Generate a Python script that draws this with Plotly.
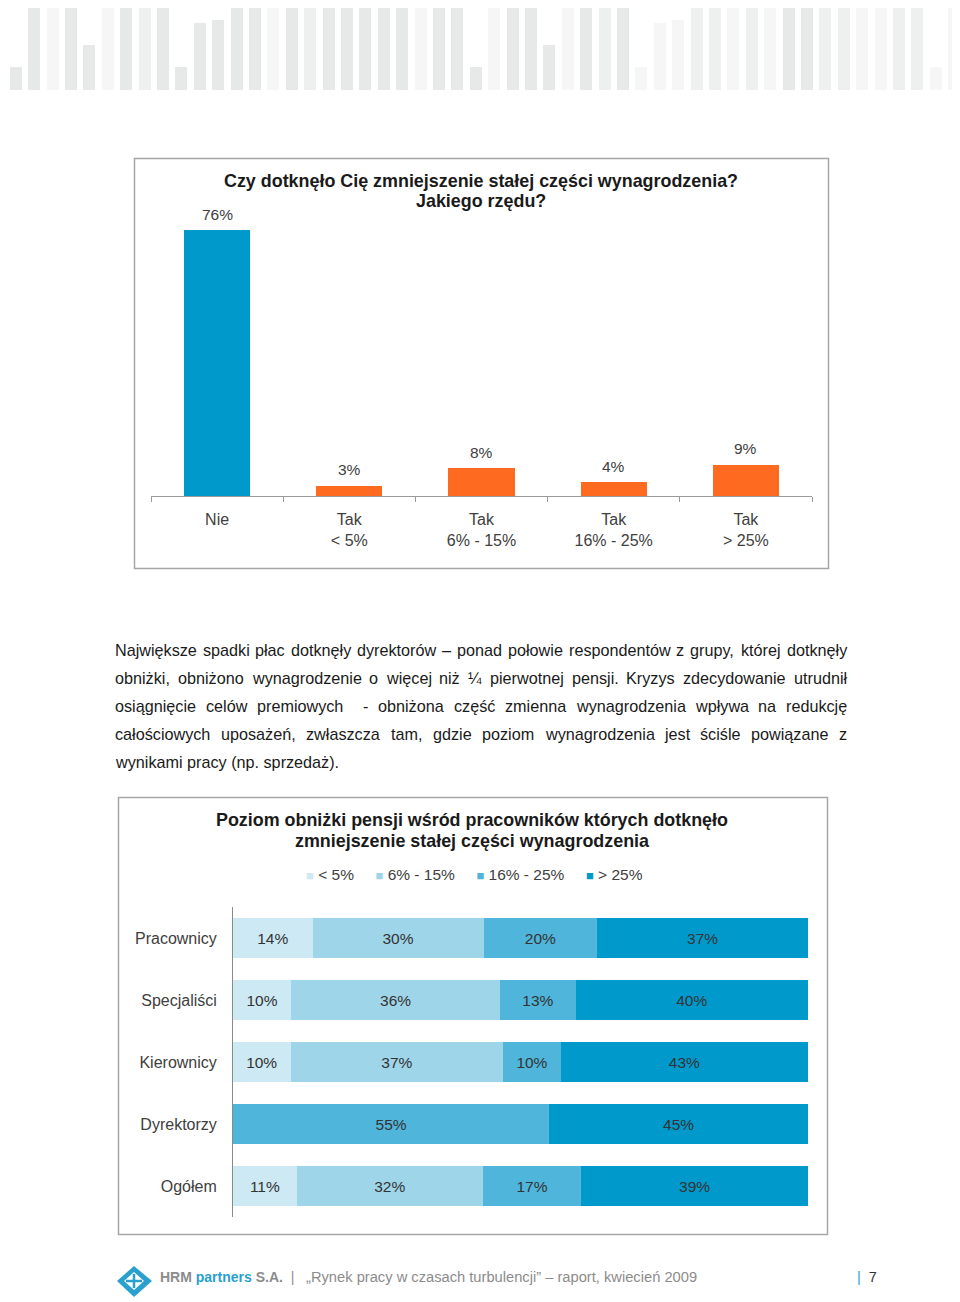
import unicodedata
import plotly.graph_objects as go

W, H = 960, 1302
OFF = 8  # page body margin of the browser
FONT = "Liberation Sans, Arial, sans-serif"


def X(px):
    return (px - OFF) / W


def Y(py):
    return 1 - (py - OFF) / H


# ---------------- header decoration (grey stripes) ----------------
header_heights = [90, 23, 90, 90, 90, 45, 90, 90, 90, 90, 23, 67, 70, 90, 90, 90, 90, 90,
                  90, 90, 90, 90, 90, 90, 90, 90, 23, 90, 90, 90, 45, 90, 90, 90, 90, 23,
                  67, 70, 90, 90, 90, 90, 90, 90, 90, 90, 90, 90, 90, 90, 90, 23, 90]
header_tones = ["l", "d", "d", "l", "d", "d", "l", "d", "m", "d", "d", "d", "d", "d", "d", "l", "d", "m",
                "d", "d", "d", "d", "d", "l", "d", "d", "d", "l", "d", "d", "d", "l", "d", "m", "d", "l",
                "l", "l", "m", "m", "l", "m", "l", "d", "d", "m", "m", "l", "l", "m", "m", "l", "l"]
tone_colors = {"d": "#e7e9e9", "m": "#eeefef", "l": "#f6f6f6"}

# ---------------- chart 1 ----------------
c1_title = ["Czy dotknęło Cię zmniejszenie stałej części wynagrodzenia?", "Jakiego rzędu?"]
c1_categories = ["Nie", "Tak<br>< 5%", "Tak<br>6% - 15%", "Tak<br>16% - 25%", "Tak<br>> 25%"]
c1_values = [76, 3, 8, 4, 9]
c1_colors = ["#0099cc", "#ff6a21", "#ff6a21", "#ff6a21", "#ff6a21"]

# ---------------- chart 2 ----------------
c2_title = ["Poziom obniżki pensji wśród pracowników których dotknęło",
            "zmniejszenie stałej części wynagrodzenia"]
c2_groups = ["Pracownicy", "Specjaliści", "Kierownicy", "Dyrektorzy", "Ogółem"]
c2_series = ["< 5%", "6% - 15%", "16% - 25%", "> 25%"]
c2_lt5 = [14, 10, 10, 0, 11]
c2_6_15 = [30, 36, 37, 0, 32]
c2_16_25 = [20, 13, 10, 55, 17]
c2_gt25 = [37, 40, 43, 45, 39]
c2_colors = ["#cde9f3", "#9fd5e9", "#4fb5da", "#0099cc"]

# ---------------- paragraph ----------------
para_lines = [
    "Największe spadki płac dotknęły dyrektorów – ponad połowie respondentów z grupy, której dotknęły",
    "obniżki, obniżono wynagrodzenie o więcej niż ¼ pierwotnej pensji. Kryzys zdecydowanie utrudnił",
    "osiągnięcie celów premiowych  - obniżona część zmienna wynagrodzenia wpływa na redukcję",
    "całościowych uposażeń, zwłaszcza tam, gdzie poziom wynagrodzenia jest ściśle powiązane z",
    "wynikami pracy (np. sprzedaż).",
]

footer_left = ("<b>HRM <span style='color:#2aa0d0'>partners</span> S.A.</b>&nbsp;&nbsp;|&nbsp;&nbsp;&nbsp;"
               "<span style='font-size:14.7px'>„Rynek pracy w czasach turbulencji” – raport, kwiecień 2009</span>")
footer_page = "7"

# ---------------- helpers ----------------
AW = {" ": 278, "a": 556, "b": 556, "c": 500, "d": 556, "e": 556, "f": 278, "g": 556, "h": 556,
      "i": 222, "j": 222, "k": 500, "l": 222, "m": 833, "n": 556, "o": 556, "p": 556, "q": 556,
      "r": 333, "s": 500, "t": 278, "u": 556, "v": 500, "w": 722, "x": 500, "y": 500, "z": 500,
      "A": 667, "B": 667, "C": 722, "D": 722, "E": 667, "F": 611, "G": 778, "H": 722, "I": 278,
      "J": 500, "K": 667, "L": 556, "M": 833, "N": 722, "O": 778, "P": 667, "Q": 778, "R": 722,
      "S": 667, "T": 611, "U": 722, "V": 667, "W": 944, "X": 667, "Y": 667, "Z": 611,
      "%": 889, "(": 333, ")": 333, ".": 278, ",": 278, "-": 333, "–": 556, "¼": 834, "ł": 222,
      "Ł": 556}


def text_width(s, size):
    tot = 0
    for ch in s:
        if ch in AW:
            tot += AW[ch]
        elif ch.isdigit():
            tot += 556
        else:
            base = unicodedata.normalize("NFD", ch)[0]
            tot += AW.get(base, 556)
    return tot * size / 1000


fig = go.Figure()

# header stripes
fig.add_trace(go.Bar(
    x=list(range(len(header_heights))), y=header_heights,
    marker=dict(color=[tone_colors[t] for t in header_tones], line=dict(width=0)),
    width=0.65, xaxis="x", yaxis="y", hoverinfo="skip", showlegend=False))

# chart 1
fig.add_trace(go.Bar(
    x=c1_categories, y=c1_values,
    marker=dict(color=c1_colors, line=dict(width=0)),
    width=0.5, xaxis="x2", yaxis="y2", showlegend=False))

# chart 2 (100% stacked)
series_vals = [c2_lt5, c2_6_15, c2_16_25, c2_gt25]
totals = [sum(col) for col in zip(*series_vals)]
for name, vals, col in zip(c2_series, series_vals, c2_colors):
    fig.add_trace(go.Bar(
        y=c2_groups, x=[v / t * 100 for v, t in zip(vals, totals)], orientation="h",
        name=name, marker=dict(color=col, line=dict(width=0)), width=0.66,
        text=[f"{v}%" if v else "" for v in vals], textposition="inside",
        insidetextanchor="middle", textangle=0, constraintext="none",
        textfont=dict(size=15.5, color="#333333", family=FONT),
        xaxis="x3", yaxis="y3", showlegend=False))

annotations = []
# value labels chart 1 (data coordinates)
for cat, v in zip(c1_categories, c1_values):
    annotations.append(dict(text=f"{v}%", x=cat, y=v, xref="x2", yref="y2", xanchor="center",
                            yanchor="middle", yshift=16, showarrow=False,
                            font=dict(size=15.5, color="#404040", family=FONT)))

# chart titles (line by line)
for line, ly in zip(c1_title, [181, 201]):
    annotations.append(dict(text=f"<b>{line}</b>", x=X(481), y=Y(ly), xref="paper", yref="paper",
                            xanchor="center", yanchor="middle", showarrow=False,
                            font=dict(size=17.9, color="#1a1a1a", family=FONT)))
for line, ly in zip(c2_title, [820, 841]):
    annotations.append(dict(text=f"<b>{line}</b>", x=X(472), y=Y(ly), xref="paper", yref="paper",
                            xanchor="center", yanchor="middle", showarrow=False,
                            font=dict(size=17.9, color="#1a1a1a", family=FONT)))
# legend for chart 2
legend_txt = "&nbsp;&nbsp;&nbsp;&nbsp;&nbsp;".join(
    f"<span style='font-size:13px;color:{c}'>■</span>&nbsp;{n}" for n, c in zip(c2_series, c2_colors))
annotations.append(dict(text=legend_txt, x=X(474.5), y=Y(875), xref="paper", yref="paper",
                        xanchor="center", yanchor="middle", showarrow=False,
                        font=dict(size=15.5, color="#404040", family=FONT)))

# paragraph (justified)
PX0, PX1, PSIZE = 113, 845, 16.2
para_y = [650, 678, 706, 734, 762]
for li, (line, ly) in enumerate(zip(para_lines, para_y)):
    if li == len(para_lines) - 1:
        annotations.append(dict(text=line, x=X(PX0), y=Y(ly), xref="paper", yref="paper",
                                xanchor="left", yanchor="middle", showarrow=False,
                                font=dict(size=PSIZE, color="#1a1a1a", family=FONT)))
        continue
    tokens = line.split(" ")
    words, gaps_before = [], []
    pending = 0
    for tok in tokens:
        if tok == "":
            pending += 1
            continue
        words.append(tok)
        gaps_before.append(pending + 1 if len(words) > 1 else 0)
        pending = 0
    units = sum(gaps_before)
    widths = [text_width(w, PSIZE) for w in words]
    gap = (PX1 - PX0 - sum(widths)) / units
    xpos = PX0
    for w, wd, g in zip(words, widths, gaps_before):
        xpos += g * gap
        annotations.append(dict(text=w, x=X(xpos), y=Y(ly), xref="paper", yref="paper",
                                xanchor="left", yanchor="middle", showarrow=False,
                                font=dict(size=PSIZE, color="#1a1a1a", family=FONT)))
        xpos += wd

# footer
annotations.append(dict(text=footer_left, x=X(158), y=Y(1277), xref="paper", yref="paper",
                        xanchor="left", yanchor="middle", showarrow=False,
                        font=dict(size=14, color="#8c8c8c", family=FONT)))
annotations.append(dict(text=f"<span style='color:#2aa0d0'>|</span>&nbsp;&nbsp;{footer_page}",
                        x=X(855), y=Y(1277), xref="paper", yref="paper",
                        xanchor="left", yanchor="middle", showarrow=False,
                        font=dict(size=14.5, color="#333333", family=FONT)))

shapes = [
    dict(type="rect", xref="paper", yref="paper", x0=X(134.5), x1=X(828.5), y0=Y(568.5), y1=Y(158.5),
         line=dict(color="#a6a6a6", width=1.5), fillcolor="rgba(0,0,0,0)", layer="below"),
    dict(type="rect", xref="paper", yref="paper", x0=X(118.5), x1=X(827.5), y0=Y(1234.5), y1=Y(797.5),
         line=dict(color="#a6a6a6", width=1.5), fillcolor="rgba(0,0,0,0)", layer="below"),
    # logo
    dict(type="path", xref="paper", yref="paper",
         path=f"M {X(117)} {Y(1281)} L {X(134)} {Y(1266)} L {X(152)} {Y(1281)} L {X(134)} {Y(1297)} Z",
         fillcolor="#2aa0d0", line=dict(width=0)),
    dict(type="path", xref="paper", yref="paper",
         path=f"M {X(124)} {Y(1281)} L {X(134)} {Y(1272)} L {X(144)} {Y(1281)} L {X(134)} {Y(1290)} Z",
         fillcolor="white", line=dict(width=0)),
    dict(type="line", xref="paper", yref="paper", x0=X(126), x1=X(142), y0=Y(1281), y1=Y(1281),
         line=dict(color="#2aa0d0", width=2.5)),
    dict(type="line", xref="paper", yref="paper", x0=X(134), x1=X(134), y0=Y(1274), y1=Y(1288),
         line=dict(color="#2aa0d0", width=2.5)),
]

fig.update_layout(
    width=W, height=H, margin=dict(l=0, r=0, t=0, b=0),
    paper_bgcolor="white", plot_bgcolor="rgba(0,0,0,0)",
    barmode="stack", showlegend=False,
    font=dict(family=FONT, size=15, color="#404040"),
    xaxis=dict(domain=[0, 1], range=[(OFF + 2.6) / 18.4, (W + OFF + 2.6) / 18.4], visible=False,
               anchor="y"),
    yaxis=dict(domain=[Y(90), 1], range=[0, 90 - OFF], visible=False, anchor="x"),
    xaxis2=dict(domain=[X(151), X(812)], anchor="y2", type="category", range=[-0.5, 4.5],
                showline=True, linecolor="#9a9a9a", linewidth=1, ticks="outside",
                tickson="boundaries", ticklen=5, tickcolor="#9a9a9a", showgrid=False,
                tickfont=dict(size=16, color="#404040", family=FONT), ticklabelstandoff=9),
    yaxis2=dict(domain=[Y(496), Y(216)], range=[0, 80], visible=False, anchor="x2"),
    xaxis3=dict(domain=[X(233), X(808)], range=[0, 100], visible=False, anchor="y3"),
    yaxis3=dict(domain=[Y(1217), Y(907)], anchor="x3", autorange="reversed", type="category",
                showline=True, linecolor="#8a8a8a", linewidth=1, ticks="", showgrid=False,
                tickfont=dict(size=16, color="#404040", family=FONT), ticklabelstandoff=12),
    annotations=annotations, shapes=shapes,
)

fig.write_html("out.html")
